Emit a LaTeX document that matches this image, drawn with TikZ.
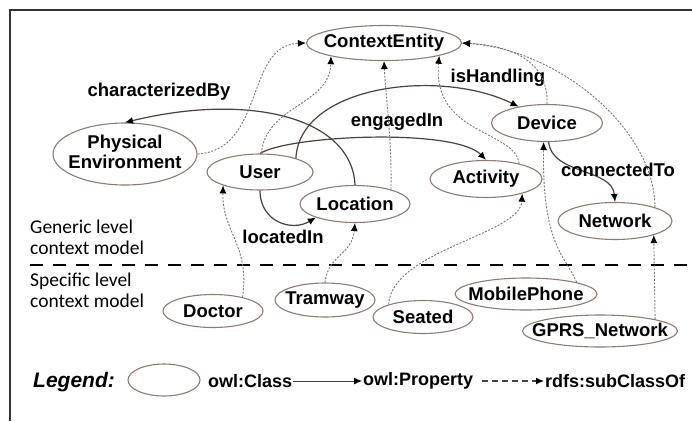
\documentclass[tikz,border=0pt]{standalone}
\usepackage{fontspec}
\setmainfont{Liberation Sans}
\newfontfamily\carlito{Carlito}
\usetikzlibrary{shapes.geometric,arrows.meta}
\definecolor{ellcol}{HTML}{8C7B73}
\definecolor{propcol}{HTML}{4A3F3B}
\definecolor{subcol}{HTML}{7A7370}
\definecolor{framecol}{HTML}{333333}
\tikzset{
  cls/.style n args={2}{ellipse, draw=ellcol, line width=1.1pt,
    minimum width=#1, minimum height=#2, inner sep=0pt,
    font=\fontsize{18.5}{20}\selectfont\bfseries},
  lbl/.style={font=\fontsize{18.5}{20}\selectfont\bfseries, inner sep=0pt},
  lvl/.style={font=\carlito\fontsize{19.5}{21}\selectfont, align=left, inner sep=0pt, anchor=west},
  legtxt/.style={font=\fontsize{18}{20}\selectfont\bfseries, inner sep=1pt, anchor=west},
  prop/.style={draw=propcol, line width=1.2pt, -{Latex[length=8pt,width=7pt,color=black]}},
  sub/.style={draw=subcol, line width=0.9pt, dash pattern=on 2pt off 1.5pt,
    -{Latex[length=8pt,width=7pt,color=black]}},
  levelsep/.style={line width=2.8pt, dash pattern=on 13pt off 10pt},
}
\begin{document}
\begin{tikzpicture}[x=1pt,y=-1pt]
\useasboundingbox (0,0) rectangle (692,421);

% frame edges
\draw[framecol, line width=1.4pt] (10,421) -- (10,10) -- (692,10);

% generic level classes
\node[cls={155}{35}] (ce)   at (384,43)  {\makebox[0pt]{ContextEntity}};
\node[cls={144}{62}] (pe)   at (125,154) {\makebox[0pt]{\begin{tabular}{@{}c@{}}Physical\\Environment\end{tabular}}};
\node[cls={106}{36}] (user) at (260,172) {\makebox[0pt]{User}};
\node[cls={110}{37}] (loc)  at (355,204) {\makebox[0pt]{Location}};
\node[cls={111}{37}] (dev)  at (547,123) {\makebox[0pt]{Device}};
\node[cls={112}{37}] (act)  at (486,179) {\makebox[0pt]{Activity}};
\node[cls={114}{37}] (net)  at (615,221) {\makebox[0pt]{Network}};

% specific level classes
\node[cls={100}{33}] (doc)  at (213,311) {\makebox[0pt]{Doctor}};
\node[cls={100}{34}] (tram) at (325,300) {\makebox[0pt]{Tramway}};
\node[cls={100}{33}] (seat) at (423,317) {\makebox[0pt]{Seated}};
\node[cls={142}{32}] (mob)  at (526,294) {\makebox[0pt]{MobilePhone}};
\node[cls={155}{32}] (gprs) at (600,331) {\makebox[0pt]{GPRS\_Network}};

% level separator and captions
\coordinate (sepL) at (30,265);
\coordinate (sepR) at (692,265);
\draw[levelsep] (sepL) -- (sepR);
\node[lvl] (gen)  at (30,237) {Generic level\\context model};
\node[lvl] (spec) at (30,290) {Specific level\\context model};

% object properties
\draw[prop] (loc.north) .. controls (352,118) and (250,92) .. (pe.north);
\draw[prop] (user.21) .. controls (300,85) and (440,68) .. (dev.150);
\draw[prop] (user.north) .. controls (290,135) and (455,128) .. (act.north);
\draw[prop] (user.south) .. controls (260,222) and (292,232) .. (loc.199);
\draw[prop] (dev.-85) .. controls (552,175) and (612,168) .. (net.north);

\node[lbl] (lchar) at (159,92)  {characterizedBy};
\node[lbl] (lhand) at (498,78)  {isHandling};
\node[lbl] (lengd) at (397,122) {engagedIn};
\node[lbl] (lloc)  at (283,237) {locatedIn};
\node[lbl] (lconn) at (618,170) {connectedTo};

% subclass relations
\draw[sub] (pe.east) .. controls (265,150) and (245,45) .. (ce.west);
\draw[sub] (user.86) .. controls (266,105) and (330,105) .. (ce.194);
\draw[sub] (loc.22) .. controls (392,140) and (386,100) .. (ce.south);
\draw[sub] (act.25) .. controls (515,130) and (432,135) .. (ce.-13);
\draw[sub] (dev.north) .. controls (549,55) and (500,45) .. (ce.east);
\draw[sub] (net.19) .. controls (655,130) and (560,50) .. (ce.east);
\draw[sub] (doc.25) .. controls (250,245) and (222,232) .. (user.200);
\draw[sub] (tram.north) .. controls (328,255) and (352,255) .. (loc.south);
\draw[sub] (seat.160) .. controls (392,250) and (520,235) .. (act.-22);
\draw[sub] (mob.13) .. controls (565,255) and (542,245) .. (dev.-100);
\draw[sub] (gprs.12) -- (net.-20);

% legend
\node[font=\fontsize{21}{24}\selectfont\bfseries\itshape, inner sep=0pt, anchor=west] (leg) at (33,382) {Legend:};
\node[cls={72}{32}] (legcls) at (164,380) {};
\node[legtxt] (lgclass) at (207,381) {owl:Class};
\node[legtxt] (lgprop)  at (362,381) {owl:Property};
\node[legtxt] (lgsub)   at (544,381) {rdfs:subClassOf};
\draw[prop, line width=1pt] (lgclass.east) -- (lgprop.west);
\draw[sub, dash pattern=on 6pt off 4pt, line width=1.1pt, draw=black!75] ([xshift=8pt]lgprop.east) -- (lgsub.west);
\end{tikzpicture}
\end{document}
